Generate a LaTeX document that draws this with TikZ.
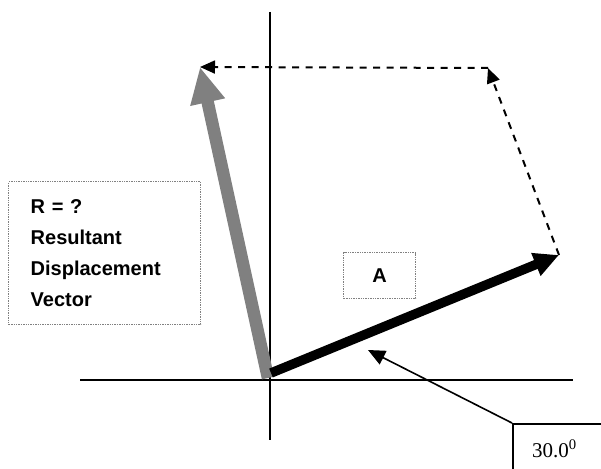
\documentclass[tikz,border=0pt]{standalone}
\usepackage{fontspec}
\setmainfont{Liberation Serif}
\newfontfamily\handfont{Liberation Sans}
\usetikzlibrary{arrows.meta}

\begin{document}
\begin{tikzpicture}[x=1pt,y=-1pt,>=Triangle]
    \tikzstyle{dotbox}=[draw=gray, densely dotted, line width=1.4pt, inner sep=0pt, font=\handfont\bfseries\fontsize{20}{31}\selectfont]
    \tikzstyle{guide}=[dash pattern=on 7pt off 6.5pt, line width=2pt, -{Triangle[length=15pt,width=13pt]}]
    \useasboundingbox (0,0) rectangle (601,468);

    % axes
    \coordinate (xl) at (80,380);
    \coordinate (xr) at (573,380);
    \coordinate (yt) at (270,12);
    \coordinate (yb) at (270,440);
    \draw [line width=2pt] (xl) -- (xr);
    \draw [line width=2pt] (yt) -- (yb);

    % vectors
    \coordinate (rorg) at (268,378);
    \coordinate (rtip) at (200,67);
    \coordinate (aorg) at (271,373);
    \coordinate (atip) at (559,255);
    \coordinate (corner) at (488,68);
    \draw [gray, line width=12.5pt, -{Triangle[length=36pt,width=33pt]}] (rorg) -- (rtip);
    \draw [line width=9.5pt, -{Triangle[length=25pt,width=23pt]}] (aorg) -- (atip);
    \draw [guide] (atip) -- (corner);
    \draw [guide] (corner) -- (rtip);

    % labels
    \node[dotbox, anchor=north west, minimum width=192, minimum height=143, text width=148, inner xsep=22pt, align=left] (rbox) at (8,181) {R = ?\\ Resultant\\ Displacement\\ Vector};
    \node[dotbox, anchor=north west, minimum width=72, minimum height=46] (abox) at (343,252) {A};

    \node[draw, line width=1.6pt, anchor=north west, minimum width=110, minimum height=70] (angbox) at (512,423) {};
    \node[font=\fontsize{21}{24}\selectfont, anchor=base west, inner sep=0pt] (angtext) at (532,457) {30.0\textsuperscript{0}};
    \coordinate (angtip) at (368,350);
    \draw [line width=1.6pt, -{Triangle[length=17pt,width=15pt]}] (angbox.north west) -- (angtip);
\end{tikzpicture}
\end{document}
